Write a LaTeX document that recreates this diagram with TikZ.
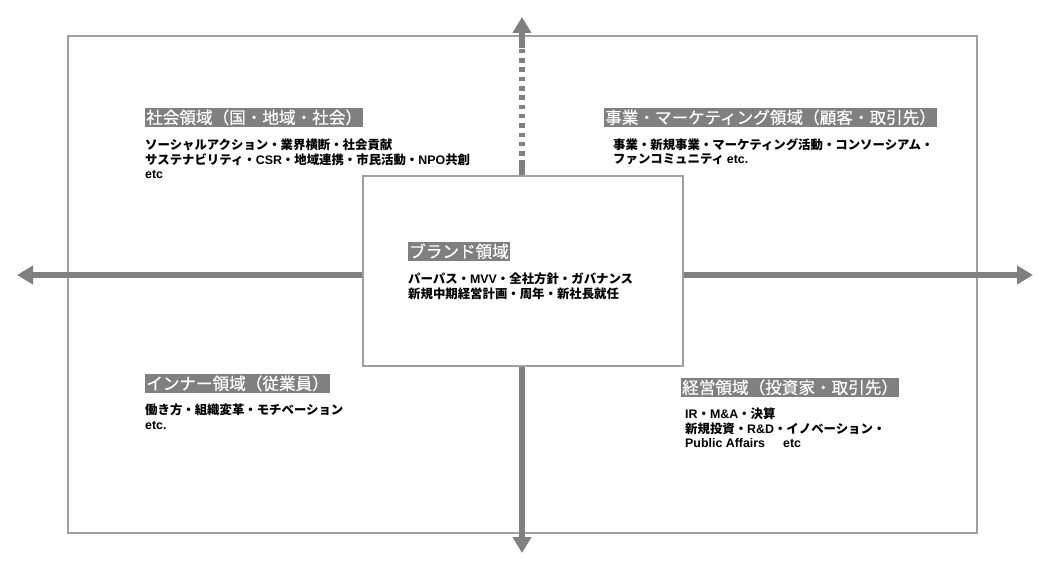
\documentclass[tikz,border=0pt]{standalone}
\usepackage{fontspec}
\setmainfont{Noto Sans CJK JP}
\newfontfamily\latinfont{Liberation Sans}[BoldFont={Liberation Sans Bold}]
\newfontfamily\titlefont{Noto Sans CJK JP}[FakeBold=0.4]
\newcommand{\lat}[1]{{\latinfont\bfseries #1}}
\usetikzlibrary{arrows.meta}
\definecolor{axisgray}{RGB}{128,128,128}
\definecolor{framegray}{RGB}{160,160,160}

\begin{document}
\begin{tikzpicture}[x=1pt,y=-1pt,
  axis/.style={line width=6pt,draw=axisgray},
  tip/.style={-{Triangle[length=16pt,width=18pt]}},
  title/.style={fill=axisgray,text=white,anchor=north west,inner xsep=1pt,inner ysep=1pt,text height=14.5pt,text depth=2pt,font=\titlefont\fontsize{16.6}{18}\selectfont},
  body/.style={anchor=north west,align=left,inner sep=0pt,font=\bfseries\fontsize{12.4}{14.5}\selectfont}]
  \useasboundingbox (0,0) rectangle (1050,572);
  \draw[framegray,line width=1.5pt] (68,36) rectangle (977,533);
  \coordinate (o) at (522,275);
  \coordinate (up) at (522,17);
  \coordinate (down) at (522,553);
  \coordinate (left) at (17,275);
  \coordinate (right) at (1033,275);
  \coordinate (dashlow) at (522,165);
  \coordinate (dashhigh) at (522,48);
  \draw[axis,tip] (o) -- (left);
  \draw[axis,tip] (o) -- (right);
  \draw[axis,tip] (o) -- (down);
  \draw[axis] (o) -- (dashlow);
  \draw[axis,dash pattern=on 4.5pt off 4.8pt] (dashlow) -- (dashhigh);
  \draw[axis,tip] (dashhigh) -- (up);
  \node[draw=framegray,line width=1.5pt,fill=white,minimum width=320pt,minimum height=190pt] (brand) at (523,271) {};
  \node[title] (socialtitle) at (145,108) {社会領域（国・地域・社会）};
  \node[body] (socialbody) at (145,139) {ソーシャルアクション・業界横断・社会貢献\\サステナビリティ・\lat{CSR}・地域連携・市民活動・\lat{NPO}共創\\\lat{etc}};
  \node[title] (markettitle) at (604,108) {事業・マーケティング領域（顧客・取引先）};
  \node[body] (marketbody) at (613,138) {事業・新規事業・マーケティング活動・コンソーシアム・\\ファンコミュニティ \lat{etc.}};
  \node[title] (brandtitle) at (408,242) {ブランド領域};
  \node[body] (brandbody) at (408,273) {パーパス・\lat{MVV}・全社方針・ガバナンス\\新規中期経営計画・周年・新社長就任};
  \node[title] (innertitle) at (145,374) {インナー領域（従業員）};
  \node[body] (innerbody) at (145,404) {働き方・組織変革・モチベーション\\\lat{etc.}};
  \node[title] (mgmttitle) at (681,378) {経営領域（投資家・取引先）};
  \node[body] (mgmtbody) at (685,408) {\lat{IR}・\lat{M\&A}・決算\\新規投資・\lat{R\&D}・イノベーション・\\\lat{Public Affairs\hspace{18pt}etc}};
\end{tikzpicture}
\end{document}
